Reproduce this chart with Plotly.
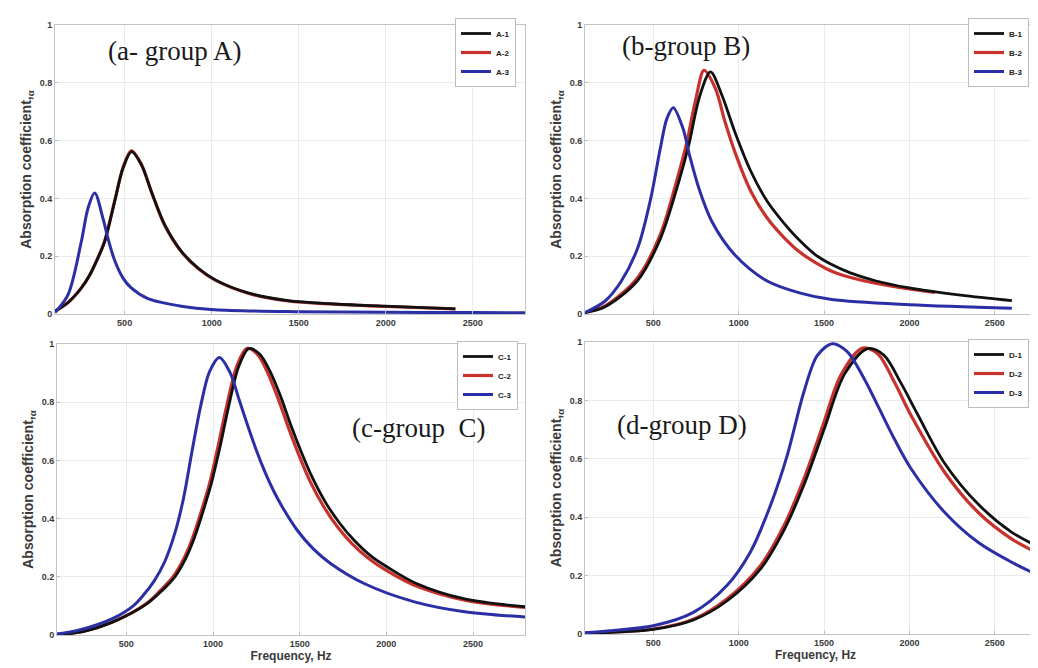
import plotly.graph_objects as go

# ---------------- data ----------------
# Group A
fA1 = [100, 175, 251, 300, 347, 385, 443, 491, 540, 596, 653, 730, 826, 922, 1018, 1209, 1439, 1700, 2000, 2400]
aA1 = [0.01, 0.04, 0.09, 0.135, 0.194, 0.25, 0.39, 0.505, 0.562, 0.517, 0.425, 0.309, 0.217, 0.159, 0.119, 0.073, 0.046, 0.035, 0.027, 0.018]
fA2 = [100, 175, 251, 300, 347, 385, 443, 491, 538, 596, 653, 730, 826, 922, 1018, 1209, 1439, 1700, 2000, 2400]
aA2 = [0.01, 0.04, 0.09, 0.136, 0.196, 0.252, 0.392, 0.507, 0.565, 0.518, 0.424, 0.307, 0.215, 0.157, 0.118, 0.072, 0.045, 0.034, 0.026, 0.018]
fA3 = [100, 175, 251, 290, 328, 376, 405, 443, 490, 538, 634, 826, 1018, 1500, 2000, 2500, 2800]
aA3 = [0.005, 0.067, 0.25, 0.367, 0.419, 0.33, 0.26, 0.185, 0.125, 0.09, 0.053, 0.027, 0.015, 0.008, 0.006, 0.005, 0.004]

# Group B
fB1 = [100, 218, 407, 541, 650, 710, 770, 835, 902, 977, 1072, 1167, 1260, 1356, 1450, 1545, 1650, 1800, 2000, 2300, 2600]
aB1 = [0.005, 0.025, 0.115, 0.26, 0.459, 0.59, 0.75, 0.838, 0.757, 0.631, 0.493, 0.39, 0.318, 0.255, 0.205, 0.171, 0.143, 0.115, 0.09, 0.065, 0.046]
fB2 = [100, 218, 407, 541, 636, 693, 750, 797, 864, 920, 977, 1072, 1167, 1260, 1356, 1450, 1545, 1650, 1800, 2000, 2150]
aB2 = [0.005, 0.028, 0.125, 0.275, 0.459, 0.585, 0.746, 0.843, 0.78, 0.665, 0.562, 0.424, 0.332, 0.268, 0.215, 0.178, 0.148, 0.127, 0.107, 0.087, 0.075]
fB3 = [100, 218, 313, 409, 485, 541, 580, 617, 674, 712, 767, 843, 977, 1167, 1356, 1545, 2000, 2600]
aB3 = [0.005, 0.045, 0.114, 0.229, 0.40, 0.573, 0.677, 0.714, 0.642, 0.55, 0.435, 0.32, 0.205, 0.114, 0.073, 0.05, 0.032, 0.02]

# Group C
fC1 = [100, 250, 423, 616, 710, 780, 840, 890, 940, 990, 1040, 1090, 1148, 1206, 1270, 1330, 1390, 1450, 1510, 1570, 1650, 1730, 1810, 1910, 2010, 2170, 2452, 2800]
aC1 = [0.002, 0.012, 0.045, 0.106, 0.155, 0.2, 0.26, 0.33, 0.42, 0.52, 0.645, 0.785, 0.922, 0.984, 0.965, 0.905, 0.82, 0.72, 0.628, 0.545, 0.455, 0.385, 0.328, 0.272, 0.232, 0.178, 0.124, 0.097]
fC2 = [100, 250, 423, 616, 700, 770, 830, 880, 930, 980, 1030, 1080, 1138, 1196, 1260, 1320, 1380, 1440, 1500, 1560, 1640, 1720, 1800, 1900, 2000, 2162, 2452, 2800]
aC2 = [0.002, 0.012, 0.045, 0.108, 0.155, 0.2, 0.26, 0.33, 0.42, 0.52, 0.65, 0.79, 0.925, 0.985, 0.962, 0.895, 0.805, 0.705, 0.612, 0.528, 0.44, 0.37, 0.315, 0.262, 0.222, 0.171, 0.12, 0.095]
fC3 = [100, 229, 423, 540, 600, 660, 720, 780, 830, 880, 930, 980, 1037, 1100, 1150, 1200, 1250, 1300, 1350, 1400, 1486, 1580, 1678, 1872, 2162, 2452, 2800]
aC3 = [0.003, 0.017, 0.057, 0.1, 0.138, 0.185, 0.25, 0.35, 0.47, 0.635, 0.79, 0.905, 0.954, 0.9, 0.81, 0.72, 0.635, 0.56, 0.495, 0.44, 0.36, 0.295, 0.246, 0.177, 0.114, 0.08, 0.062]

# Group D
fD1 = [100, 500, 735, 931, 1127, 1265, 1382, 1500, 1620, 1755, 1850, 1950, 2050, 2206, 2402, 2598, 2800]
aD1 = [0.003, 0.016, 0.048, 0.113, 0.222, 0.355, 0.51, 0.70, 0.89, 0.977, 0.955, 0.86, 0.75, 0.585, 0.445, 0.349, 0.286]
fD2 = [100, 500, 735, 931, 1127, 1265, 1382, 1500, 1598, 1725, 1814, 1912, 2010, 2206, 2402, 2598, 2800]
aD2 = [0.003, 0.017, 0.051, 0.12, 0.234, 0.371, 0.531, 0.726, 0.886, 0.979, 0.96, 0.863, 0.748, 0.554, 0.417, 0.326, 0.263]
fD3 = [100, 245, 500, 735, 931, 1068, 1186, 1284, 1382, 1461, 1549, 1637, 1735, 1814, 1912, 2010, 2206, 2402, 2598, 2800]
aD3 = [0.004, 0.011, 0.028, 0.074, 0.166, 0.28, 0.44, 0.611, 0.829, 0.954, 0.994, 0.966, 0.874, 0.783, 0.668, 0.566, 0.417, 0.314, 0.246, 0.189]

x_ticks = [500, 1000, 1500, 2000, 2500]
y_ticks = [0, 0.2, 0.4, 0.6, 0.8, 1]
y_tick_labels = ["0", "0.2", "0.4", "0.6", "0.8", "1"]
panel_labels = ["(a- group A)", "(b-group B)", "(c-group  C)", "(d-group D)"]
x_title = "Frequency, Hz"
y_title = "Absorption coefficient,<sub>α</sub>"

# ---------------- styling ----------------
W, H = 1038, 668
BLACK = "#111111"
RED = "#c8322d"
BLUE = "#2b2fa6"

def px_x(p):
    return p / W

def px_y(p):
    return 1 - p / H

groups = [
    ("A", [(fA1, aA1), (fA2, aA2), (fA3, aA3)]),
    ("B", [(fB1, aB1), (fB2, aB2), (fB3, aB3)]),
    ("C", [(fC1, aC1), (fC2, aC2), (fC3, aC3)]),
    ("D", [(fD1, aD1), (fD2, aD2), (fD3, aD3)]),
]

# pixel boxes of the four plot areas: (left, right, top, bottom)
boxes = [(47, 517, 17, 306), (577, 1038, 17, 306), (49, 517, 336, 627), (577, 1038, 334, 626)]
legend_pos = [(447, 10), (960, 10), (449, 333), (960, 331)]   # left, top
label_pos = [(166, 43), (678, 38), (410, 420), (674, 417)]

fig = go.Figure()
colors = [BLACK, RED, BLUE]
widths = [2.8, 3.2, 3.0]
draw_order = [1, 0, 2]  # red under black

for gi, (g, series) in enumerate(groups):
    ax = "" if gi == 0 else str(gi + 1)
    leg = "legend" if gi == 0 else "legend" + str(gi + 1)
    for si in draw_order:
        f, a = series[si]
        fig.add_trace(go.Scatter(
            x=f, y=a, mode="lines", name=f"{g}-{si + 1}",
            line=dict(color=colors[si], width=widths[si], shape="spline", smoothing=0.9),
            xaxis="x" + ax, yaxis="y" + ax, legend=leg, legendrank=si + 1,
        ))

layout = dict(
    width=W, height=H, margin=dict(l=0, r=0, t=0, b=0),
    paper_bgcolor="white", plot_bgcolor="white", showlegend=True,
)

tickfont = dict(family="Liberation Sans, Arial, sans-serif", size=9, color="#3a3a3a", weight="bold")
ytitlefont = dict(family="Liberation Sans, Arial, sans-serif", size=14, color="#3a3a3a", weight="bold")
xtitlefont = dict(family="Liberation Sans, Arial, sans-serif", size=12, color="#3a3a3a", weight="bold")

annotations = []
for gi, (l, r, t, b) in enumerate(boxes):
    ax = "" if gi == 0 else str(gi + 1)
    xa = dict(
        domain=[px_x(l), min(1.0, px_x(r))], range=[100, 2800], anchor="y" + ax,
        tickvals=x_ticks, ticktext=[str(v) for v in x_ticks], tickfont=tickfont,
        showgrid=True, gridcolor="#ebebeb", gridwidth=1, zeroline=False,
        showline=True, mirror=True, linecolor="#c4c4c4", linewidth=1,
        ticks="inside", ticklen=3, tickcolor="#bbbbbb", automargin=False,
    )
    ya = dict(
        domain=[px_y(b), px_y(t)], range=[0, 1], anchor="x" + ax,
        tickvals=y_ticks, ticktext=y_tick_labels, tickfont=tickfont,
        showgrid=True, gridcolor="#ebebeb", gridwidth=1, zeroline=False,
        showline=True, mirror=True, linecolor="#c4c4c4", linewidth=1,
        ticks="inside", ticklen=3, tickcolor="#bbbbbb", automargin=False,
        title=dict(text=y_title, font=ytitlefont, standoff=4),
    )
    if gi >= 2:
        xa["title"] = dict(text=x_title, font=xtitlefont, standoff=2)
    layout["xaxis" + ax] = xa
    layout["yaxis" + ax] = ya

    lx, ly = legend_pos[gi]
    leg = dict(
        x=px_x(lx), y=px_y(ly), xanchor="left", yanchor="top",
        bgcolor="white", bordercolor="#bdbdbd", borderwidth=1,
        font=dict(family="Liberation Sans, Arial, sans-serif", size=8, color="#222222", weight="bold"),
        itemwidth=30, tracegroupgap=0, traceorder="normal",
    )
    layout["legend" if gi == 0 else "legend" + str(gi + 1)] = leg

    cx, cy = label_pos[gi]
    annotations.append(dict(
        x=px_x(cx), y=px_y(cy), xref="paper", yref="paper", text=panel_labels[gi],
        showarrow=False, xanchor="center", yanchor="middle",
        font=dict(family="Liberation Serif, Times New Roman, serif", size=27, color="#1a1a1a"),
    ))

layout["annotations"] = annotations
fig.update_layout(**layout)
fig.write_html("out.html")
